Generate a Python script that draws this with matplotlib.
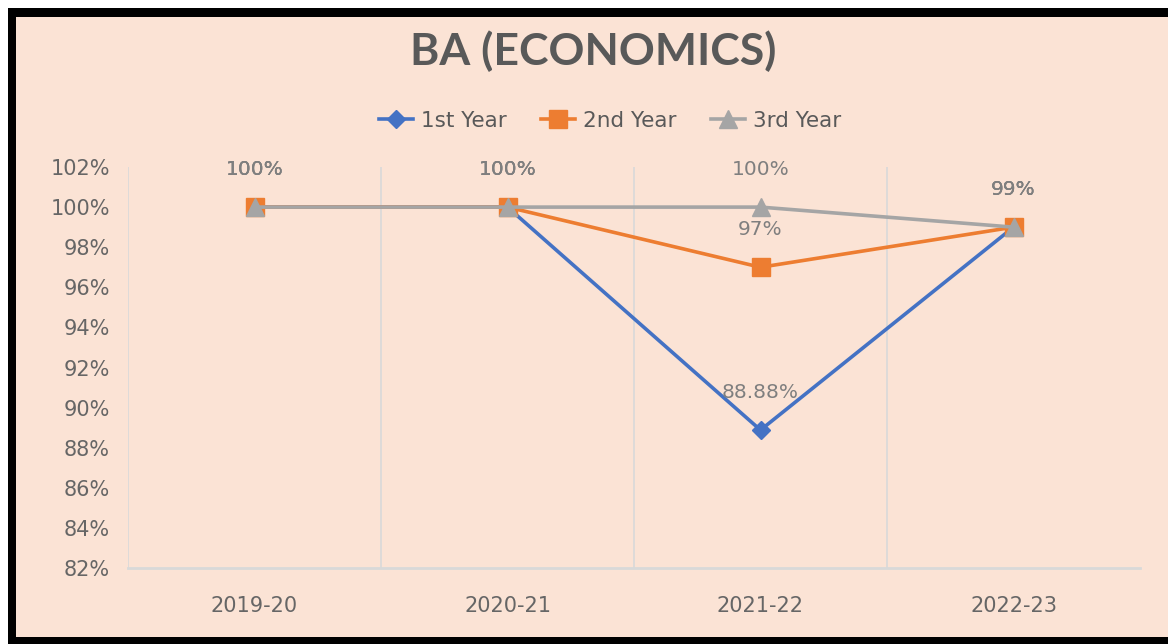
import matplotlib
matplotlib.use("Agg")
import matplotlib.pyplot as plt
from matplotlib.patches import Rectangle

# ---- data ----
categories = ["2019-20", "2020-21", "2021-22", "2022-23"]
series_names = ["1st Year", "2nd Year", "3rd Year"]
first_year = [100, 100, 88.88, 99]
second_year = [100, 100, 97, 99]
third_year = [100, 100, 100, 99]
first_labels = ["100%", "100%", "88.88%", "99%"]
second_labels = ["100%", "100%", "97%", "99%"]
third_labels = ["100%", "100%", "100%", "99%"]
yticks = [82, 84, 86, 88, 90, 92, 94, 96, 98, 100, 102]
title = "BA (ECONOMICS)"

W, H = 1168, 644
fig = plt.figure(figsize=(W / 100, H / 100), dpi=100, facecolor="white")

# border + background
fig.patches.append(Rectangle((8 / W, 0), 1 - 8 / W, 1 - 8 / H, transform=fig.transFigure,
                             facecolor="black", edgecolor="none", zorder=-10))
fig.patches.append(Rectangle((16 / W, 7 / H), 1 - 16 / W, 1 - 24 / H, transform=fig.transFigure,
                             facecolor="#FBE3D5", edgecolor="none", zorder=-9))

ax = fig.add_axes([128 / W, 1 - 568 / H, (1140 - 128) / W, (568 - 167) / H])
ax.set_facecolor("none")

x = list(range(len(categories)))
colors = ["#4472C4", "#ED7D31", "#A5A5A5"]
markers = ["D", "s", "^"]
msizes = [9.5, 13, 13]
all_vals = [first_year, second_year, third_year]
all_labels = [first_labels, second_labels, third_labels]

for vals, name, c, m, ms in zip(all_vals, series_names, colors, markers, msizes):
    ax.plot(x, vals, color=c, lw=2.6, marker=m, ms=ms, mec=c, mfc=c, label=name, zorder=3)

for vals, labs in zip(all_vals, all_labels):
    for xi, v, lab in zip(x, vals, labs):
        ax.annotate(lab, (xi, v), xytext=(0, 27), textcoords="offset points",
                    ha="center", va="center", fontsize=14.5, color="#7F7F7F", zorder=4)

ax.set_xlim(-0.5, len(categories) - 0.5)
ax.set_ylim(82, 102)
ax.set_yticks(yticks)
ax.set_yticklabels([f"{t}%" for t in yticks])
ax.set_xticks(x)
ax.set_xticklabels(categories)
ax.tick_params(axis="both", length=0, labelsize=15, colors="#666666")
ax.tick_params(axis="y", pad=13)
ax.tick_params(axis="x", pad=20)

for b in [-0.5, 0.5, 1.5, 2.5]:
    ax.axvline(b, color="#D9D9D9", lw=1.2, zorder=1)
for s in ["top", "right", "left"]:
    ax.spines[s].set_visible(False)
ax.spines["bottom"].set_color("#D9D9D9")
ax.spines["bottom"].set_linewidth(2)

fig.text(593 / W, 1 - 51 / H, title, ha="center", va="center", fontsize=32,
         fontweight="bold", family="Lato", color="#595959")

fig.legend(loc="center", bbox_to_anchor=(610 / W, 1 - 121 / H), ncol=3, frameon=False,
           fontsize=15.5, labelcolor="#595959", handlelength=1.6, handletextpad=0.35,
           columnspacing=1.6)

fig.savefig("out.png", dpi=100, facecolor="white")
